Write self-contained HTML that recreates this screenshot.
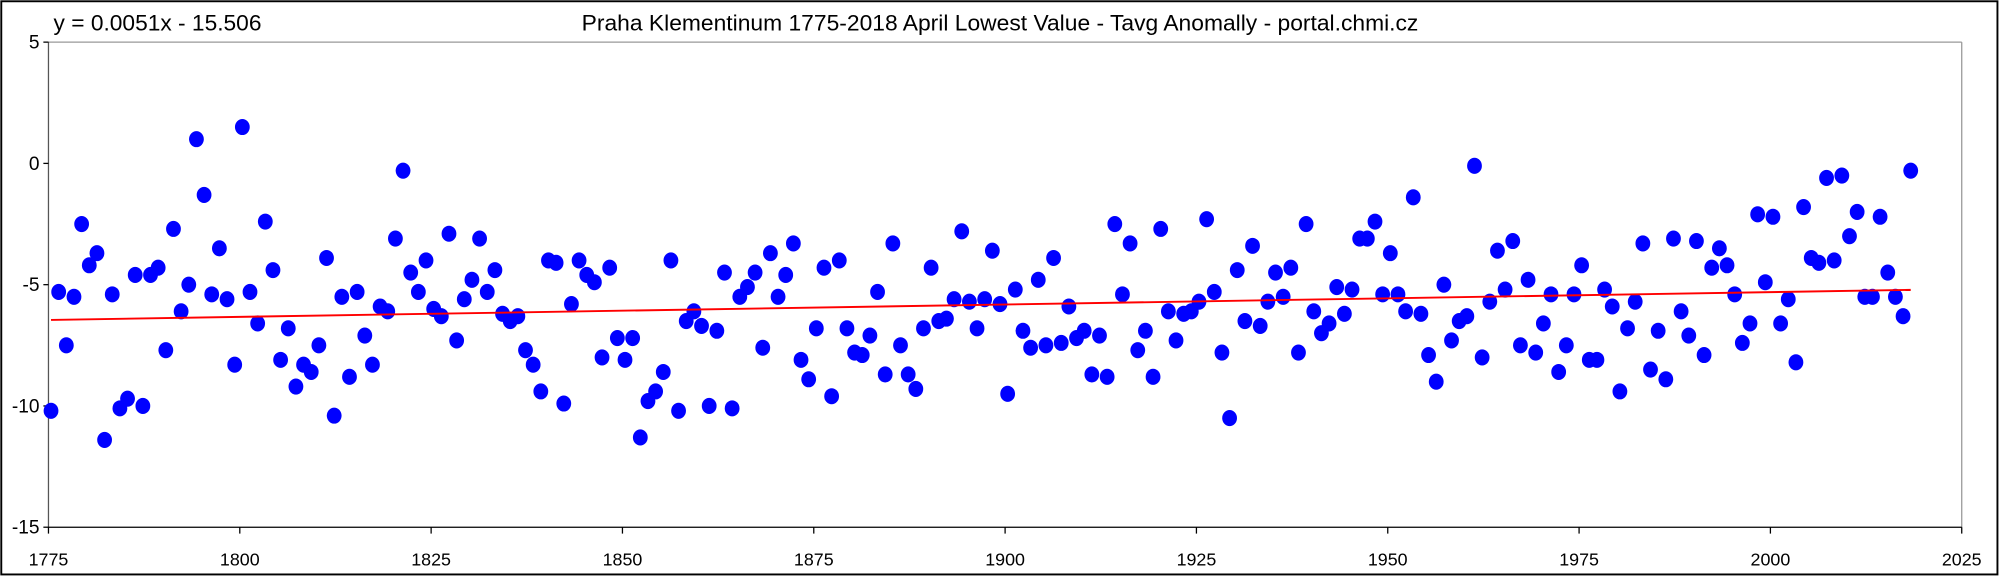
<!DOCTYPE html>
<html><head><meta charset="utf-8"><style>
html,body{margin:0;padding:0;background:#fff;}
svg{display:block;}
text{font-family:"Liberation Sans",Arial,sans-serif;fill:#000;}
</style></head><body>
<svg id="s" width="2000" height="577" viewBox="0 0 1568 452" preserveAspectRatio="none" xmlns="http://www.w3.org/2000/svg">
<rect x="1" y="1" width="1565" height="449" fill="#fff" stroke="#000" stroke-width="1.5"/>
<text x="42" y="24" font-size="17.5" textLength="163" lengthAdjust="spacingAndGlyphs">y = 0.0051x - 15.506</text>
<text x="456" y="24" font-size="17.5" textLength="656" lengthAdjust="spacingAndGlyphs">Praha Klementinum 1775-2018 April Lowest Value - Tavg Anomally - portal.chmi.cz</text>
<line x1="38" y1="33" x2="1538" y2="33" stroke="#999" stroke-width="1"/>
<line x1="1538" y1="33" x2="1538" y2="413" stroke="#999" stroke-width="1"/>
<line x1="38" y1="33" x2="38" y2="413" stroke="#555" stroke-width="1"/>
<line x1="38" y1="413" x2="1538" y2="413" stroke="#000" stroke-width="1"/>
<g id="ticks"></g>
<g id="dots" fill="#0000ff"></g>
<line id="trend" stroke="#ff0000" stroke-width="1.5"/>
</svg>
<script>
var d=[-10.2,-5.3,-7.5,-5.5,-2.5,-4.2,-3.7,-11.4,-5.4,-10.1,-9.7,-4.6,-10,-4.6,-4.3,-7.7,-2.7,-6.1,-5,1,-1.3,-5.4,-3.5,-5.6,-8.3,
1.5,-5.3,-6.6,-2.4,-4.4,-8.1,-6.8,-9.2,-8.3,-8.6,-7.5,-3.9,-10.4,-5.5,-8.8,-5.3,-7.1,-8.3,-5.9,-6.1,-3.1,-0.3,-4.5,-5.3,-4,
-6,-6.3,-2.9,-7.3,-5.6,-4.8,-3.1,-5.3,-4.4,-6.2,-6.5,-6.3,-7.7,-8.3,-9.4,-4,-4.1,-9.9,-5.8,-4,-4.6,-4.9,-8,-4.3,-7.2,
-8.1,-7.2,-11.3,-9.8,-9.4,-8.6,-4,-10.2,-6.5,-6.1,-6.7,-10,-6.9,-4.5,-10.1,-5.5,-5.1,-4.5,-7.6,-3.7,-5.5,-4.6,-3.3,-8.1,-8.9,
-6.8,-4.3,-9.6,-4,-6.8,-7.8,-7.9,-7.1,-5.3,-8.7,-3.3,-7.5,-8.7,-9.3,-6.8,-4.3,-6.5,-6.4,-5.6,-2.8,-5.7,-6.8,-5.6,-3.6,-5.8,
-9.5,-5.2,-6.9,-7.6,-4.8,-7.5,-3.9,-7.4,-5.9,-7.2,-6.9,-8.7,-7.1,-8.8,-2.5,-5.4,-3.3,-7.7,-6.9,-8.8,-2.7,-6.1,-7.3,-6.2,-6.1,
-5.7,-2.3,-5.3,-7.8,-10.5,-4.4,-6.5,-3.4,-6.7,-5.7,-4.5,-5.5,-4.3,-7.8,-2.5,-6.1,-7,-6.6,-5.1,-6.2,-5.2,-3.1,-3.1,-2.4,-5.4,
-3.7,-5.4,-6.1,-1.4,-6.2,-7.9,-9,-5,-7.3,-6.5,-6.3,-0.1,-8,-5.7,-3.6,-5.2,-3.2,-7.5,-4.8,-7.8,-6.6,-5.4,-8.6,-7.5,-5.4,
-4.2,-8.1,-8.1,-5.2,-5.9,-9.4,-6.8,-5.7,-3.3,-8.5,-6.9,-8.9,-3.1,-6.1,-7.1,-3.2,-7.9,-4.3,-3.5,-4.2,-5.4,-7.4,-6.6,-2.1,-4.9,
-2.2,-6.6,-5.6,-8.2,-1.8,-3.9,-4.1,-0.6,-4,-0.5,-3,-2,-5.5,-5.5,-2.2,-4.5,-5.5,-6.3,-0.3];
var NS="http://www.w3.org/2000/svg";
function X(yr){return 38+(yr-1775)*6.0;}
function Y(v){return 128-v*19;}
var g=document.getElementById("dots");
for(var i=0;i<d.length;i++){var e=document.createElementNS(NS,"ellipse");e.setAttribute("cx",X(1775+i)+2);e.setAttribute("cy",Y(d[i]));e.setAttribute("rx",5.8);e.setAttribute("ry",6.3);g.appendChild(e);}
var t=document.getElementById("ticks"),h="";
for(var v=5;v>=-15;v-=5){var y=Y(v);h+='<line x1="34" y1="'+y+'" x2="38" y2="'+y+'" stroke="#000"/>';h+='<text x="31" y="'+(y+5)+'" font-size="15" text-anchor="end">'+v+'</text>';}
for(var yr=1775;yr<=2025;yr+=25){var x=38+(yr-1775)*6.0;h+='<line x1="'+x+'" y1="413" x2="'+x+'" y2="418" stroke="#000"/>';h+='<text x="'+x+'" y="443" font-size="14" text-anchor="middle">'+yr+'</text>';}
t.innerHTML=h;
var tr=document.getElementById("trend");
tr.setAttribute("x1",X(1775)+2);tr.setAttribute("y1",Y(0.0051*1775-15.506));
tr.setAttribute("x2",X(2018)+2);tr.setAttribute("y2",Y(0.0051*2018-15.506));
</script>
</body></html>
